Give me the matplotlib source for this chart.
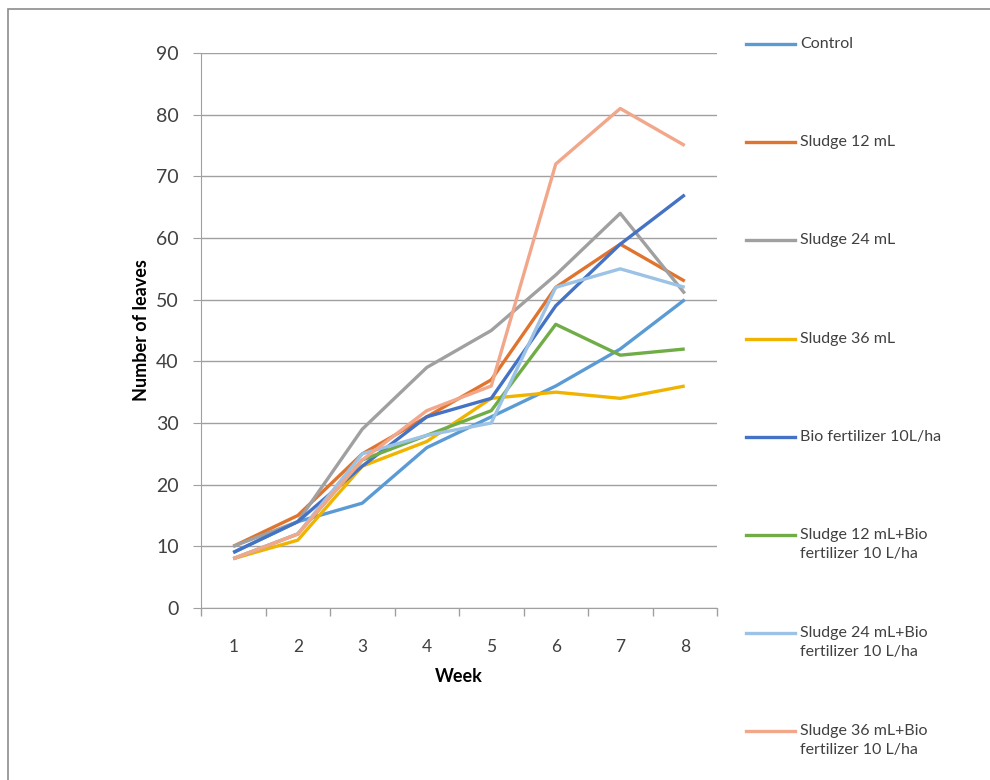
import matplotlib.pyplot as plt
from matplotlib.lines import Line2D
from matplotlib.patches import Rectangle

plt.rcParams['font.family'] = ['Lato', 'DejaVu Sans']

weeks = [1, 2, 3, 4, 5, 6, 7, 8]

control = [9, 14, 17, 26, 31, 36, 42, 50]
sludge12 = [10, 15, 25, 31, 37, 52, 59, 53]
sludge24 = [10, 14, 29, 39, 45, 54, 64, 51]
sludge36 = [8, 11, 23, 27, 34, 35, 34, 36]
bio = [9, 14, 23, 31, 34, 49, 59, 67]
s12_bio = [8, 12, 24, 28, 32, 46, 41, 42]
s24_bio = [8, 12, 25, 28, 30, 52, 55, 52]
s36_bio = [8, 12, 24, 32, 36, 72, 81, 75]

labels = ["Control", "Sludge 12 mL", "Sludge 24 mL", "Sludge 36 mL",
          "Bio fertilizer 10L/ha",
          "Sludge 12 mL+Bio\nfertilizer 10 L/ha",
          "Sludge 24 mL+Bio\nfertilizer 10 L/ha",
          "Sludge 36 mL+Bio\nfertilizer 10 L/ha"]
series = [control, sludge12, sludge24, sludge36, bio, s12_bio, s24_bio, s36_bio]
colors = ['#5B9BD5', '#E0742F', '#A0A0A0', '#F0B400', '#4472C4',
          '#70AD47', '#9CC2E5', '#F2A68A']

fig = plt.figure(figsize=(9.9, 7.8), dpi=100)
ax = fig.add_axes([201/990, 1 - 608/780, (717 - 201)/990, (608 - 53)/780])

for vals, c in zip(series, colors):
    ax.plot(weeks, vals, color=c, linewidth=2.4, solid_capstyle='butt')

ax.set_xlim(0.5, 8.5)
ax.set_ylim(0, 90)
ax.set_yticks(range(0, 91, 10))
ax.set_xticks(weeks)
ax.set_xticks([w + 0.5 for w in [0] + weeks], minor=True)
ax.tick_params(axis='x', which='major', length=0, labelsize=12.5, pad=22, colors='#404040')
ax.tick_params(axis='x', which='minor', length=6, color='#A0A0A0', width=1)
ax.tick_params(axis='y', length=6, color='#A0A0A0', labelsize=14, pad=10, labelcolor='#404040')
ax.grid(axis='y', color='#A0A0A0', linewidth=1)
ax.set_axisbelow(True)
for s in ['top', 'right']:
    ax.spines[s].set_visible(False)
for s in ['left', 'bottom']:
    ax.spines[s].set_color('#A0A0A0')

ax.set_xlabel("Week", fontsize=13, fontweight='bold', labelpad=10)
ax.set_ylabel("Number of leaves", fontsize=13, fontweight='bold', labelpad=4)

# legend on the right, entries evenly spaced
top = 1 - 44/780
step = 98.2/780
for i, (lab, c) in enumerate(zip(labels, colors)):
    y = top - i*step
    fig.add_artist(Line2D([746/990, 795/990], [y, y], color=c, linewidth=2.4,
                          transform=fig.transFigure))
    fig.text(800/990, y + 7/780, lab, fontsize=11.5, color='#404040',
             va='top', ha='left', linespacing=1.45)

fig.add_artist(Rectangle((8/990, -0.01), 1.0, 1 - 9/780 + 0.01, fill=False,
                         edgecolor='#8C8C8C', linewidth=1.2,
                         transform=fig.transFigure))

fig.savefig("out.png", dpi=100)
